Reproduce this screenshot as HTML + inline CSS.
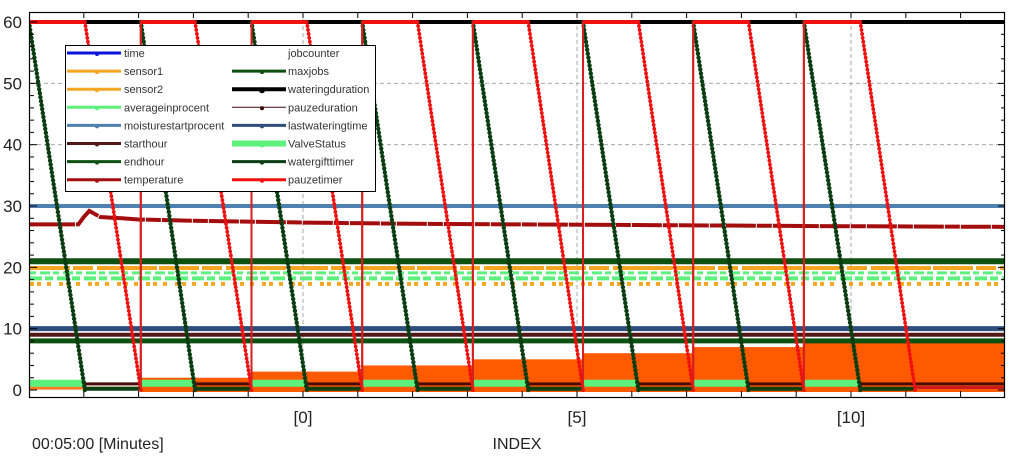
<!DOCTYPE html>
<html><head><meta charset="utf-8"><style>
html,body{margin:0;padding:0;background:#fff;width:1024px;height:458px;overflow:hidden}
svg{display:block;font-family:"Liberation Sans",sans-serif}
</style></head><body>
<svg id="chart" width="1024" height="458" viewBox="0 0 1024 458" xmlns="http://www.w3.org/2000/svg">
<defs><clipPath id="clip"><rect x="30" y="12" width="975" height="385"/></clipPath></defs>
<g id="grid"></g>
<g id="plot" clip-path="url(#clip)"></g>
<rect x="29.5" y="12.5" width="975" height="385" fill="none" stroke="#000" stroke-width="1.2"/>
<g id="axes"></g>
<g id="legend"></g>
<text x="32" y="449" font-size="16" fill="#222">00:05:00 [Minutes]</text>
<text x="517" y="449" font-size="16" fill="#222" text-anchor="middle">INDEX</text>
</svg>
<script>
// ---- data ----
const yTicks = [0,10,20,30,40,50,60];
const xTickIdx = [0,5,10];
const xTickLabels = ["[0]","[5]","[10]"];
const jumpIdx = [-2.96,-0.94,1.08,3.10,5.11,7.12,9.14];
const redFallStart = [-3.98,-1.97,0.07,2.09,4.11,6.12,8.13,10.17];
const redFallEnd = [-2.96,-0.94,1.08,3.10,5.11,7.12,9.14,11.17];
const greenFallStart = [-5.0,-2.96,-0.94,1.08,3.10,5.11,7.12,9.14];
const greenFallEnd = [-3.98,-1.97,0.07,2.09,4.11,6.12,8.13,10.17];
const jobCounts = [2,3,4,5,6,7,8];
const tempIdx = [-5,-4.1,-4.0,-3.9,-3.7,-3.3,-3,-2,0,2,4,6,8,10,12.8];
const tempVal = [27,27,28.2,29.2,28.2,28,27.8,27.6,27.3,27.1,27,26.9,26.8,26.7,26.6];
const levels = {wateringduration:60, moisturestartprocent:30, endhour:21, lastwateringtime:10, starthour:9, maxjobs:8};

const X0=303, XS=54.8, Y0=390, YS=6.133, XMIN=-5, XMAX=12.8;
const xs=i=>X0+XS*i, ys=v=>Y0-YS*v;
const NS="http://www.w3.org/2000/svg";
function mk(tag,attrs,parent){const e=document.createElementNS(NS,tag);for(const k in attrs)e.setAttribute(k,attrs[k]);parent.appendChild(e);return e;}
const plot=document.getElementById('plot'), grid=document.getElementById('grid'), axes=document.getElementById('axes'), leg=document.getElementById('legend');

[40,50].forEach(v=>{const l=mk('line',{x1:30,x2:1005,y1:ys(v),y2:ys(v),stroke:'#aaa','stroke-dasharray':'4,3'},grid);

});
xTickIdx.forEach(i=>{const l=mk('line',{x1:xs(i),x2:xs(i),y1:12,y2:397,stroke:'#aaa','stroke-dasharray':'4,3'},grid);

});

jobCounts.forEach((c,k)=>{const a=jumpIdx[k], b=k+1<jumpIdx.length?jumpIdx[k+1]:XMAX;
const r=mk('rect',{x:xs(a),y:ys(c),width:xs(b)-xs(a),height:ys(0)-ys(c)+2,fill:'#ff5a00'},plot);

});
{const l=mk('line',{x1:30,x2:xs(jumpIdx[0]),y1:ys(0.3),y2:ys(0.3),stroke:'#ff7a20','stroke-width':3},plot);

}

function hline(v,color,w,name){const l=mk('line',{x1:30,x2:1005,y1:ys(v),y2:ys(v),stroke:color,'stroke-width':w},plot);

}
hline(levels.moisturestartprocent,'#4f81b0',4,'moisturestartprocent-line');
hline(levels.endhour,'#0d5010',6,'endhour-line');
hline(levels.lastwateringtime,'#2e4d7a',5,'lastwateringtime-line');
hline(levels.starthour,'#521818',4,'starthour-line');
hline(levels.maxjobs,'#0d5010',5,'maxjobs-line');

{let l=mk('line',{x1:30,x2:1005,y1:ys(19.9),y2:ys(19.9),stroke:'#f5a623','stroke-width':4,'stroke-dasharray':'40,3,20,4,60,2'},plot);


l=mk('line',{x1:30,x2:1005,y1:ys(17.3),y2:ys(17.3),stroke:'#f5a623','stroke-width':4,'stroke-dasharray':'4,3,4,6,4,8'},plot);


l=mk('line',{x1:30,x2:1005,y1:ys(18.2),y2:ys(18.2),stroke:'#5cf07c','stroke-width':4,'stroke-dasharray':'12,3,8,4'},plot);


l=mk('line',{x1:30,x2:1005,y1:ys(19.1),y2:ys(19.1),stroke:'#5cf07c','stroke-width':3,'stroke-dasharray':'6,4,10,3'},plot);

}

{const p=tempIdx.map((i,k)=>xs(i)+','+ys(tempVal[k])).join(' ');
const l=mk('polyline',{points:p,fill:'none',stroke:'#a30d0d','stroke-width':4,'stroke-dasharray':'30,1,15,1'},plot);

}

hline(levels.wateringduration,'#000',4,'wateringduration-line');

greenFallStart.forEach((s,k)=>{const e=greenFallEnd[k];
const l=mk('line',{x1:xs(s),x2:xs(e),y1:ys(1.1),y2:ys(1.1),stroke:'#5cf07c','stroke-width':7},plot);

});
redFallStart.forEach((s,k)=>{const e=redFallEnd[k];
let l=mk('line',{x1:xs(s),x2:xs(e),y1:ys(1),y2:ys(1),stroke:'#4a0a0a','stroke-width':3},plot);


l=mk('line',{x1:xs(s),x2:xs(e),y1:ys(0.2),y2:ys(0.2),stroke:'#0b4010','stroke-width':4},plot);

});
{const s=redFallEnd[redFallEnd.length-1];
let l=mk('line',{x1:xs(s),x2:1005,y1:ys(1),y2:ys(1),stroke:'#4a0a0a','stroke-width':3},plot);


l=mk('line',{x1:xs(s),x2:1005,y1:ys(0.4),y2:ys(0.4),stroke:'#cc1a1a','stroke-width':3},plot);

}

function dotted(x1,y1,x2,y2,color,r,name){const n=Math.max(2,Math.round(Math.hypot(x2-x1,y2-y1)/4));
for(let k=0;k<=n;k++){const c=mk('circle',{cx:x1+(x2-x1)*k/n,cy:y1+(y2-y1)*k/n,r:r,fill:color},plot);

}}

greenFallStart.forEach((s,k)=>{const e=greenFallEnd[k];
const l=mk('line',{x1:xs(s),y1:ys(60),x2:xs(e),y2:ys(0),stroke:'#0b3d12','stroke-width':2.5},plot);


dotted(xs(s),ys(60),xs(e),ys(0),'#0b3d12',2.2,'watergifttimer-point');});

{let p=[[XMIN,60]];
redFallStart.forEach((s,k)=>{p.push([s,60]);p.push([redFallEnd[k],0]);if(k<jumpIdx.length)p.push([jumpIdx[k],60]);});
const l=mk('polyline',{points:p.map(q=>xs(q[0])+','+ys(q[1])).join(' '),fill:'none',stroke:'#f01010','stroke-width':2},plot);


const top=mk('line',{x1:30,x2:xs(redFallStart[0]),y1:ys(60),y2:ys(60),stroke:'#f01010','stroke-width':4},plot);


jumpIdx.forEach((j,k)=>{const t=mk('line',{x1:xs(j),x2:xs(redFallStart[k+1]),y1:ys(60),y2:ys(60),stroke:'#f01010','stroke-width':4},plot);

});
redFallStart.forEach((s,k)=>dotted(xs(s),ys(60),xs(redFallEnd[k]),ys(0),'#f01010',1.9,'pauzetimer-point'));
jumpIdx.forEach(j=>{const v=mk('line',{x1:xs(j),x2:xs(j),y1:ys(0),y2:ys(60),stroke:'#d42020','stroke-width':2},plot);

});}

for(let v=0;v<=60;v+=2){const len=v%10==0?7:4;
let t=mk('line',{x1:30,x2:30+len,y1:ys(v),y2:ys(v),stroke:'#000'},axes);


t=mk('line',{x1:1005-len,x2:1005,y1:ys(v),y2:ys(v),stroke:'#000'},axes);

}
yTicks.forEach(v=>{const t=mk('text',{x:22,y:ys(v)+6,'font-size':17,fill:'#222','text-anchor':'end'},axes);t.textContent=v;

});
for(let i=-4;i<=12;i++){let t=mk('line',{x1:xs(i),x2:xs(i),y1:397,y2:391,stroke:'#000'},axes);


t=mk('line',{x1:xs(i),x2:xs(i),y1:12,y2:18,stroke:'#000'},axes);

}
xTickIdx.forEach((i,k)=>{const t=mk('text',{x:xs(i),y:423,'font-size':17,fill:'#222','text-anchor':'middle'},axes);t.textContent=xTickLabels[k];

});

const legNames=["time","sensor1","sensor2","averageinprocent","moisturestartprocent","starthour","endhour","temperature","jobcounter","maxjobs","wateringduration","pauzeduration","lastwateringtime","ValveStatus","watergifttimer","pauzetimer"];
const legColors=["#0a14d8","#f5a623","#f5a623","#5cf07c","#4f81b0","#521818","#0d5010","#a30d0d","none","#0d5010","#000","#3a0a0a","#2e4d7a","#5cf07c","#0b3d12","#f01010"];
const legWidths=[3,3,3,3,3,3,3,3,0,3,4,1,3,6,3,3];
{const b=mk('rect',{x:65.5,y:45.5,width:310,height:146,fill:'#fff',stroke:'#000','stroke-width':1},leg);

}
legNames.forEach((n,k)=>{const col=k<8?0:1, row=k%8, y=53+row*18.1, lx=col?232:67, tx=col?288:124;
const g=mk('g',{},leg);


if(legColors[k]!="none"){mk('line',{x1:lx,x2:lx+54,y1:y,y2:y,stroke:legColors[k],'stroke-width':legWidths[k]},g);
mk('circle',{cx:lx+30,cy:y+1,r:legWidths[k]>3?3:2,fill:legColors[k]},g);}
const t=mk('text',{x:tx,y:y+4,'font-size':11,fill:'#333'},g);t.textContent=n;});
</script>
</body></html>
